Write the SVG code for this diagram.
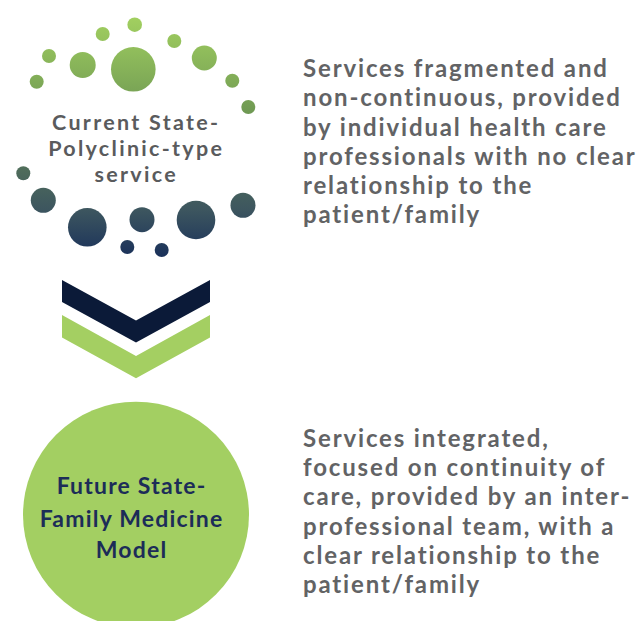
<svg xmlns="http://www.w3.org/2000/svg" width="637" height="621" viewBox="0 0 637 621">
<style>
.lbl{font-family:Lato,"Noto Sans",sans-serif;font-weight:700;text-anchor:middle}
.cur{font-size:21.5px;fill:#5a5b5d;letter-spacing:2.3px}
.fut{font-size:23px;fill:#1c2c58;letter-spacing:1.2px}
.desc{font-family:Lato,"Noto Sans",sans-serif;font-weight:700;font-size:24px;fill:#626365;letter-spacing:1.85px}
</style>
<defs>
<linearGradient id="dots" gradientUnits="userSpaceOnUse" x1="0" y1="15" x2="0" y2="258">
<stop offset="0" stop-color="#a3d160"/>
<stop offset="0.4" stop-color="#6f9953"/>
<stop offset="0.65" stop-color="#4d6a5b"/>
<stop offset="0.8" stop-color="#3d565f"/>
<stop offset="1" stop-color="#19305a"/>
</linearGradient>
</defs>
<rect width="637" height="621" fill="#ffffff"/>
<g id="current-state">
<g fill="url(#dots)">
<circle cx="134.7" cy="24.7" r="7.3"/>
<circle cx="102.7" cy="34" r="7"/>
<circle cx="174.3" cy="41" r="7"/>
<circle cx="49" cy="56" r="7"/>
<circle cx="82.7" cy="65" r="13"/>
<circle cx="133.3" cy="69.3" r="22.3"/>
<circle cx="204.3" cy="58" r="12.5"/>
<circle cx="36.7" cy="81.7" r="7"/>
<circle cx="232.3" cy="80.7" r="7"/>
<circle cx="248.3" cy="107" r="7"/>
<circle cx="23.3" cy="173.3" r="7"/>
<circle cx="43.3" cy="200.3" r="12.5"/>
<circle cx="87.3" cy="227.3" r="19.3"/>
<circle cx="142" cy="219.7" r="12.5"/>
<circle cx="196" cy="220" r="19.3"/>
<circle cx="243" cy="205.3" r="12.5"/>
<circle cx="127.3" cy="247" r="7"/>
<circle cx="161.7" cy="250" r="7"/>
</g>
<text class="lbl cur" x="136.2" y="129.5">Current State-</text>
<text class="lbl cur" x="136.2" y="155.5">Polyclinic-type</text>
<text class="lbl cur" x="136.2" y="182">service</text>
</g>
<g id="connectors">
<polygon points="62,280 136,320.5 210,280 210,302 136,342.5 62,302" fill="#0b1a38"/>
<polygon points="62,315 136,356 210,315 210,337.5 136,378.3 62,337.5" fill="#a4cf62"/>
</g>
<g id="future-state">
<circle cx="136" cy="514.7" r="113" fill="#a3cf62"/>
<text class="lbl fut" x="131.6" y="494">Future State-</text>
<text class="lbl fut" x="131.6" y="526.5">Family Medicine</text>
<text class="lbl fut" x="131.6" y="558">Model</text>
</g>
<g id="current-description">
<text class="desc" x="303" y="77">Services fragmented and</text>
<text class="desc" x="303" y="106">non-continuous, provided</text>
<text class="desc" x="303" y="135.5">by individual health care</text>
<text class="desc" x="303" y="164.5">professionals with no clear</text>
<text class="desc" x="303" y="194">relationship to the</text>
<text class="desc" x="303" y="223">patient/family</text>
</g>
<g id="future-description">
<text class="desc" x="303" y="447">Services integrated,</text>
<text class="desc" x="303" y="476">focused on continuity of</text>
<text class="desc" x="303" y="505">care, provided by an inter-</text>
<text class="desc" x="303" y="534.5">professional team, with a</text>
<text class="desc" x="303" y="564">clear relationship to the</text>
<text class="desc" x="303" y="593">patient/family</text>
</g>
</svg>
